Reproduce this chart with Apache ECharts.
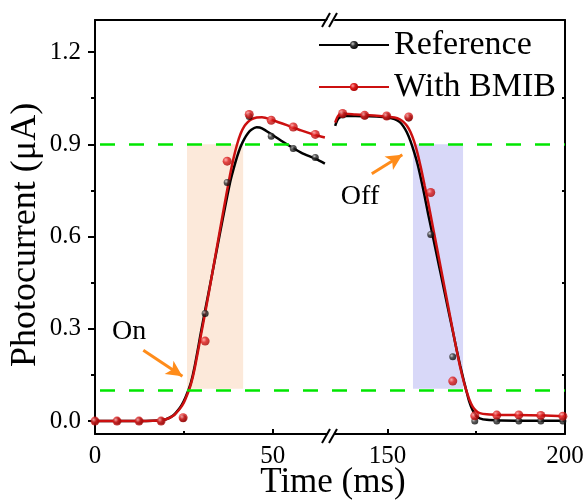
<!DOCTYPE html>
<html><head><meta charset="utf-8">
<script src="https://cdn.jsdelivr.net/npm/echarts@6/dist/echarts.min.js"></script>
<style>html,body{margin:0;padding:0;background:#fff}#c{width:585px;height:500px}</style>
</head><body><div id="c"></div>
<script>
// ---------- data ----------
const seriesNames = ['Reference', 'With BMIB'];
// measured data points (markers)
const markTimes1 = [0, 6.2, 12.4, 18.6, 24.8, 31.0, 37.2, 43.4, 49.6, 55.8, 62.0];
const refMarks1  = [0, 0, 0, 0, 0.008, 0.35, 0.776, 0.99, 0.926, 0.886, 0.857];
const bmibMarks1 = [0, 0, 0, 0, 0.011, 0.26, 0.845, 0.997, 0.978, 0.956, 0.932];
const markTimes2 = [137.4, 143.6, 149.8, 156.0, 162.2, 168.4, 174.6, 180.8, 187.0, 193.2, 199.4];
const refMarks2  = [0.995, 0.992, 0.99, 0.985, 0.607, 0.209, 0.0, 0.0, 0.0, 0.0, 0.0];
const bmibMarks2 = [1.0, 0.994, 0.992, 0.989, 0.743, 0.13, 0.017, 0.0195, 0.02, 0.0185, 0.016];
// fitted curves
const curveTimes1 = [0, 10, 18, 20, 22, 24, 25, 26, 27, 28, 30, 32, 34, 36, 38, 39, 40, 41, 42, 43, 44, 45.5, 47, 50, 54, 58, 62, 64.7];
const refCurve1   = [0, 0, 0.002, 0.006, 0.018, 0.045, 0.065, 0.092, 0.125, 0.175, 0.30, 0.42, 0.54, 0.66, 0.775, 0.82, 0.86, 0.893, 0.917, 0.935, 0.947, 0.955, 0.952, 0.93, 0.9, 0.873, 0.853, 0.837];
const bmibCurve1  = [0, 0, 0.002, 0.006, 0.017, 0.042, 0.06, 0.087, 0.12, 0.168, 0.29, 0.415, 0.545, 0.675, 0.8, 0.855, 0.9, 0.935, 0.958, 0.972, 0.981, 0.987, 0.988, 0.978, 0.962, 0.945, 0.93, 0.922];
const curveTimes2 = [135.3, 136.3, 138, 141, 144, 147, 150, 152, 153.5, 154.5, 155.5, 156.5, 157.5, 158.5, 159.5, 160.5, 161.5, 162.5, 163.5, 164.5, 165.5, 166.5, 167.5, 168.5, 169.5, 170.5, 171.5, 172.2, 173, 174, 175, 176, 178, 182, 190, 200];
const refCurve2   = [0.96, 0.985, 0.992, 0.992, 0.991, 0.99, 0.987, 0.982, 0.972, 0.958, 0.938, 0.91, 0.875, 0.835, 0.785, 0.73, 0.672, 0.617, 0.562, 0.507, 0.452, 0.397, 0.342, 0.287, 0.232, 0.18, 0.132, 0.1, 0.065, 0.035, 0.017, 0.009, 0.004, 0.002, 0.001, 0.001];
const bmibCurve2  = [0.97, 0.995, 0.999, 0.997, 0.995, 0.993, 0.99, 0.987, 0.981, 0.973, 0.96, 0.94, 0.91, 0.87, 0.82, 0.765, 0.71, 0.65, 0.59, 0.53, 0.47, 0.41, 0.35, 0.29, 0.23, 0.175, 0.128, 0.1, 0.072, 0.047, 0.033, 0.026, 0.022, 0.02, 0.019, 0.016];
// thresholds & shaded windows
const thresholds = [0.9, 0.105];
const onWindow  = [25.9, 41.7];
const offWindow = [157.2, 171.3];
// axis ticks
const xRange1 = [0, 66];
const xRange2 = [133.7, 200];
const yRange = [-0.042, 1.304];
const xTicks1 = [0, 50];
const xMinor1 = [25];
const xTicks2 = [150, 200];
const xMinor2 = [175];
const yTicks = [0, 0.3, 0.6, 0.9, 1.2];
const yMinor = [0.15, 0.45, 0.75, 1.05];
// annotations
const onArrow  = [[13.6, 0.23], [24.6, 0.146]];
const offArrow = [[145.6, 0.804], [154.2, 0.866]];
const onLabelPos = [9.6, 0.29];
const offLabelPos = [142.3, 0.73];

// ---------- chart ----------
const FONT = 'Liberation Serif';
const zip = (ts, vs) => ts.map((t, i) => [t, vs[i]]);
const chart = echarts.init(document.getElementById('c'));
const BLACK = '#000000', RED = '#CC1010';
const blackFill = {type:'radial', x:0.35, y:0.35, r:0.75, colorStops:[{offset:0,color:'#c8c8c8'},{offset:0.4,color:'#303030'},{offset:1,color:'#000'}]};
const redFill = {type:'radial', x:0.35, y:0.35, r:0.75, colorStops:[{offset:0,color:'#ffa0a0'},{offset:0.4,color:'#dd1c1c'},{offset:1,color:'#a00000'}]};
const GREEN = '#00E600', ORANGE = '#FF8C1A';

const G0L = 95, GB = 329.5, G1R = 565, GT = 20, GBOT = 434;
const grids = [
  {left:G0L, top:GT, width:GB-G0L, height:GBOT-GT},
  {left:GB, top:GT, width:G1R-GB, height:GBOT-GT},
  {left:G0L, top:GT, width:GB-G0L, height:GBOT-GT},
  {left:GB, top:GT, width:G1R-GB, height:GBOT-GT}
].map(g => Object.assign({containLabel:false, outerBoundsMode:'none'}, g));

const lineAx = {show:true, onZero:false, lineStyle:{color:'#000', width:2}};
const noLine = {show:false, onZero:false};
const labelStyle = {fontFamily:FONT, fontSize:25, color:'#000'};
function xAx(grid, range, pos, opts) {
  return Object.assign({gridIndex:grid, type:'value', min:range[0], max:range[1], position:pos,
    splitLine:{show:false}, axisLine:noLine, axisTick:{show:false}, axisLabel:{show:false}}, opts);
}
const xAxis = [
  xAx(0, xRange1, 'bottom', {axisLine:lineAx, axisTick:{show:true, inside:true, length:5, customValues:xTicks1, lineStyle:{color:'#000', width:2}},
    axisLabel:Object.assign({show:true, customValues:xTicks1, margin:10}, labelStyle)}),
  xAx(0, xRange1, 'top', {axisLine:lineAx}),
  xAx(1, xRange2, 'bottom', {axisLine:lineAx, axisTick:{show:true, inside:true, length:5, customValues:xTicks2, lineStyle:{color:'#000', width:2}},
    axisLabel:Object.assign({show:true, customValues:xTicks2, margin:10}, labelStyle)}),
  xAx(1, xRange2, 'top', {axisLine:lineAx}),
  xAx(2, xRange1, 'bottom', {axisTick:{show:true, inside:true, length:3, customValues:xMinor1, lineStyle:{color:'#000', width:2}}}),
  xAx(3, xRange2, 'bottom', {axisTick:{show:true, inside:true, length:3, customValues:xMinor2, lineStyle:{color:'#000', width:2}}})
];
function yAx(grid, pos, opts) {
  return Object.assign({gridIndex:grid, type:'value', min:yRange[0], max:yRange[1], position:pos,
    splitLine:{show:false}, axisLine:noLine, axisTick:{show:false}, axisLabel:{show:false}}, opts);
}
const yAxis = [
  yAx(0, 'left', {axisLine:lineAx, axisTick:{show:true, inside:false, length:7, customValues:yTicks, lineStyle:{color:'#000', width:2}},
    axisLabel:Object.assign({show:true, customValues:yTicks, margin:14, formatter:v => Number(v).toFixed(1)}, labelStyle)}),
  yAx(1, 'right', {axisLine:lineAx, axisTick:{show:true, inside:true, length:3, customValues:yMinor, lineStyle:{color:'#000', width:2}}}),
  yAx(2, 'left', {axisTick:{show:true, inside:false, length:4, customValues:yMinor, lineStyle:{color:'#000', width:2}}}),
  yAx(3, 'left', {show:false})
];

function annot(xi, yi, win, fill, dashOffset, arrow, labelPos, labelText) {
  return {
    type:'line', xAxisIndex:xi, yAxisIndex:yi, data:[], z:1, silent:true,
    markArea:{silent:true, itemStyle:{color:fill}, data:[[{xAxis:win[0], yAxis:thresholds[1]}, {xAxis:win[1], yAxis:thresholds[0]}]]},
    markLine:{silent:true, symbol:['none','none'], label:{show:false}, animation:false,
      data:[
        {yAxis:thresholds[0], lineStyle:{color:GREEN, width:2.5, type:[15,14], dashOffset:dashOffset}},
        {yAxis:thresholds[1], lineStyle:{color:GREEN, width:2.5, type:[15,14], dashOffset:dashOffset}},
        [{coord:arrow[0], symbol:'none', lineStyle:{color:ORANGE, width:3, type:'solid'}},
         {coord:arrow[1], symbol:'arrow', symbolSize:[12,16]}]
      ]},
    markPoint:{silent:true, symbol:'circle', symbolSize:1, itemStyle:{color:'rgba(0,0,0,0)'},
      label:{show:true, position:'inside', color:'#000', fontFamily:FONT, fontSize:28, formatter:labelText},
      data:[{coord:labelPos, value:labelText}]}
  };
}
function curve(name, xi, yi, data, color, z) {
  return {name, type:'line', xAxisIndex:xi, yAxisIndex:yi, data, smooth:0.3, showSymbol:false, symbol:'circle',
    color, lineStyle:{color, width:2.5}, itemStyle:{color: color===BLACK ? blackFill : redFill}, z, silent:true};
}
function marks(name, xi, yi, data, fill, size, z) {
  return {name, type:'scatter', xAxisIndex:xi, yAxisIndex:yi, data, symbol:'circle', symbolSize:size,
    itemStyle:{color:fill}, z, silent:true, clip:false};
}

const option = {
  animation:false,
  backgroundColor:'#fff',
  grid:grids, xAxis, yAxis,
  legend:{data:seriesNames, orient:'vertical', left:318, top:27, padding:0, itemGap:6, itemWidth:70, itemHeight:10,
    selectedMode:false, textStyle:{fontFamily:FONT, fontSize:34, color:'#000', lineHeight:36}},
  series:[
    curve(seriesNames[0], 0, 0, zip(curveTimes1, refCurve1), BLACK, 3),
    curve(seriesNames[1], 0, 0, zip(curveTimes1, bmibCurve1), RED, 4),
    curve(seriesNames[0], 2, 1, zip(curveTimes2, refCurve2), BLACK, 3),
    curve(seriesNames[1], 2, 1, zip(curveTimes2, bmibCurve2), RED, 4),
    annot(0, 0, onWindow, '#FCE9DA', 24, onArrow, onLabelPos, 'On'),
    annot(2, 1, offWindow, '#D8D8F8', 26.5, offArrow, offLabelPos, 'Off'),
    marks(seriesNames[0], 0, 0, zip(markTimes1, refMarks1), blackFill, 7, 5),
    marks(seriesNames[0], 2, 1, zip(markTimes2, refMarks2), blackFill, 7, 5),
    marks(seriesNames[1], 0, 0, zip(markTimes1, bmibMarks1), redFill, 9, 6),
    marks(seriesNames[1], 2, 1, zip(markTimes2, bmibMarks2), redFill, 9, 6)
  ],
  graphic:[
    {type:'text', x:26, y:235, rotation:Math.PI/2, style:{text:'Photocurrent (\u03bcA)', font:'36px "Liberation Serif"', fill:'#000', align:'center', verticalAlign:'middle'}},
    {type:'text', x:333, y:483, style:{text:'Time (ms)', font:'35px "Liberation Serif"', fill:'#000', align:'center', verticalAlign:'middle'}},
    // axis-break marks
    {type:'polygon', shape:{points:[[326,436.5],[328.6,431.5],[335.6,431.5],[333,436.5]]}, style:{fill:'#fff'}, z:100},
    {type:'polygon', shape:{points:[[326,22.5],[328.6,17.5],[335.6,17.5],[333,22.5]]}, style:{fill:'#fff'}, z:100},
    {type:'line', shape:{x1:322, y1:443, x2:330, y2:429}, style:{stroke:'#000', lineWidth:2}, z:101},
    {type:'line', shape:{x1:329, y1:443, x2:337, y2:429}, style:{stroke:'#000', lineWidth:2}, z:101},
    {type:'line', shape:{x1:322, y1:27, x2:330, y2:13}, style:{stroke:'#000', lineWidth:2}, z:101},
    {type:'line', shape:{x1:329, y1:27, x2:337, y2:13}, style:{stroke:'#000', lineWidth:2}, z:101}
  ]
};
chart.setOption(option);
</script>
</body></html>
